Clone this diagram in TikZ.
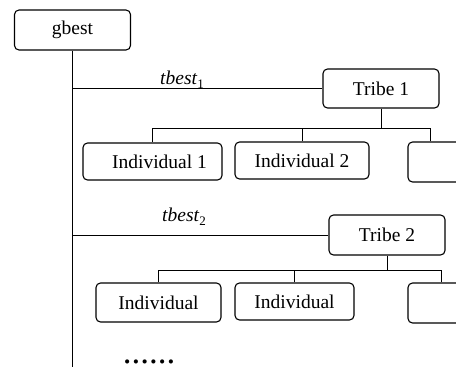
\documentclass[tikz,border=0pt]{standalone}
\usepackage{fontspec}
\setmainfont{Liberation Serif}
\begin{document}
\begin{tikzpicture}[x=1pt,y=-1pt,
  box/.style={draw, line width=1.1pt, rounded corners=4.5pt, inner sep=0pt,
    font=\fontsize{19.5}{23}\selectfont},
  conn/.style={line width=1pt},
  lbl/.style={inner sep=0pt, anchor=base west, font=\fontsize{19.5}{23}\selectfont}]
\useasboundingbox (0,0) rectangle (456,367);
\clip (0,0) rectangle (456,367);
% nodes
\node[box, minimum width=116pt, minimum height=40pt] (gbest) at (72.5,30) {gbest};
\node[box, minimum width=116pt, minimum height=39pt] (tribe1) at (381,88.5) {Tribe 1};
\node[box, minimum width=139pt, minimum height=37pt] (ind11) at (152.5,161.5) {\hspace*{14pt}Individual 1};
\node[box, minimum width=134pt, minimum height=37pt] (ind12) at (302,160.5) {Individual 2};
\node[box, minimum width=100pt, minimum height=40pt] (ind13) at (458,162) {};
\node[box, minimum width=116pt, minimum height=40pt] (tribe2) at (387,235) {Tribe 2};
\node[box, minimum width=125pt, minimum height=39pt] (ind21) at (158.5,302.5) {Individual};
\node[box, minimum width=119pt, minimum height=37pt] (ind22) at (294.5,301.5) {Individual};
\node[box, minimum width=100pt, minimum height=40pt] (ind23) at (458,303) {};
% labels
\node[lbl] (t1) at (160,84) {\textit{tbest}\raisebox{-4pt}{\fontsize{13}{13}\selectfont 1}};
\node[lbl] (t2) at (162,221) {\textit{tbest}\raisebox{-4pt}{\fontsize{13}{13}\selectfont 2}};
\node[inner sep=0pt, anchor=base, font=\fontsize{35}{36}\selectfont] (dots) at (149,363.5) {......};
% coordinates
\coordinate (bottom) at (72.5,367);
\coordinate (bar1) at (381,128.5);
\coordinate (bar2) at (387,270.5);
% connectors
\draw[conn] (gbest.south) -- (bottom);
\draw[conn] (gbest.south |- tribe1.west) -- (tribe1.west);
\draw[conn] (gbest.south |- tribe2.west) -- (tribe2.west);
\draw[conn] (tribe1.south) -- (bar1);
\draw[conn] (ind11.north) |- (bar1);
\draw[conn] (ind12.north) |- (bar1);
\draw[conn] ([xshift=23pt]ind13.north west) |- (bar1);
\draw[conn] (tribe2.south) -- (bar2);
\draw[conn] (ind21.north) |- (bar2);
\draw[conn] (ind22.north) |- (bar2);
\draw[conn] ([xshift=34pt]ind23.north west) |- (bar2);
\end{tikzpicture}
\end{document}
